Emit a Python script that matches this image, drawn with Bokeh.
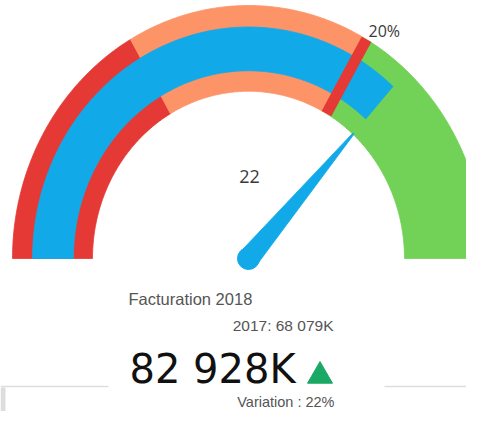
import math
from bokeh.plotting import figure
from bokeh.models import Range1d
from bokeh.embed import file_html
from bokeh.resources import INLINE
from bokeh.core.properties import value

# ---------------- data ----------------
gauge_min = 0
gauge_max = 30
band_starts = [0, 10, 20]
band_ends = [10, 20, 30]
band_colors = ["#e53935", "#fd9468", "#72d157"]
current_value = 22
target_value = 20
value_label = "22"
target_label = "20%"
title_text = "Facturation 2018"
previous_text = "2017: 68 079K"
current_text = "82 928K"
variation_text = "Variation : 22%"

# ---------------- layout ----------------
W, H = 466, 411
CX, CY = 248.0, 258.0      # gauge centre (px in the figure)
SX, SY = 236.0, 253.0      # px per unit horizontally / vertically
R_OUT, R_IN = 1.0, 0.661
B_IN, B_OUT = 0.742, 0.915
KB = 0.34                  # baseline compensation (fraction of font size)

BLUE = "#12a9e8"
RED = "#e53935"


def dx(sx):
    return (sx - CX) / SX


def dy(sy):
    return (CY - sy) / SY


def base(sy, size):
    return dy(sy - KB * size)


def ang(v):
    return math.pi * (1 - (v - gauge_min) / (gauge_max - gauge_min))


def annulus(v0, v1, r0, r1, n=90):
    a0, a1 = ang(v0), ang(v1)
    ts = [a0 + (a1 - a0) * i / n for i in range(n + 1)]
    xs = [r1 * math.cos(t) for t in ts] + [r0 * math.cos(t) for t in reversed(ts)]
    ys = [r1 * math.sin(t) for t in ts] + [r0 * math.sin(t) for t in reversed(ts)]
    return xs, ys


p = figure(width=W, height=H,
           x_range=Range1d(dx(0), dx(W)),
           y_range=Range1d(dy(H), dy(0)),
           output_backend="svg", toolbar_location=None,
           x_axis_location=None, y_axis_location=None,
           min_border=0)
p.grid.visible = False
p.outline_line_color = None
p.background_fill_color = "white"
p.border_fill_color = "white"

# bands
bx, by = [], []
for s, e in zip(band_starts, band_ends):
    xs, ys = annulus(s, e, R_IN, R_OUT)
    bx.append(xs)
    by.append(ys)
p.patches(bx, by, fill_color=band_colors, line_color=band_colors, line_width=0.8)

# value band
vx, vy = annulus(gauge_min, current_value, B_IN, B_OUT)
p.patch(vx, vy, fill_color=BLUE, line_color=BLUE, line_width=0.8)

# target marker
ta = ang(target_value)
p.segment(x0=[R_IN * math.cos(ta)], y0=[R_IN * math.sin(ta)],
          x1=[R_OUT * math.cos(ta)], y1=[R_OUT * math.sin(ta)],
          line_color=RED, line_width=11, line_cap="butt")

# needle
na = ang(current_value)
ux, uy = SX * math.cos(na), SY * math.sin(na)
L = math.hypot(ux, uy)
ux, uy = ux / L, uy / L
nx, ny = -uy, ux
tipx, tipy = 0.665 * math.cos(na), 0.665 * math.sin(na)
hb, ht = 10.5, 0.8
nxs = [hb * nx / SX, tipx + ht * nx / SX, tipx - ht * nx / SX, -hb * nx / SX]
nys = [hb * ny / SY, tipy + ht * ny / SY, tipy - ht * ny / SY, -hb * ny / SY]
p.patch(nxs, nys, fill_color=BLUE, line_color=BLUE, line_width=0.8)
p.scatter(x=[0], y=[0], size=22, fill_color=BLUE, line_color=BLUE)

# gauge labels
p.text(x=[dx(249)], y=[base(182, 18)], text=[value_label], text_align="center",
       text_baseline="alphabetic", text_font=value("Open Sans"),
       text_font_size="18px", text_color="#3a3a3a")
p.text(x=[dx(368)], y=[base(36, 16)], text=[target_label], text_align="left",
       text_baseline="alphabetic", text_font=value("Open Sans"),
       text_font_size="16px", text_color="#3a3a3a")

# separator line and left strip
p.segment(x0=[dx(0), dx(384)], x1=[dx(108), dx(W)],
          y0=[dy(386), dy(386)], y1=[dy(386), dy(386)],
          line_color="#dddddd", line_width=1.5)
p.segment(x0=[dx(2.5)], x1=[dx(2.5)], y0=[dy(387)], y1=[dy(H)],
          line_color="#dddddd", line_width=5)

# KPI texts
p.text(x=[dx(128)], y=[base(304.5, 16.5)], text=[title_text], text_align="left",
       text_baseline="alphabetic", text_font=value("Liberation Sans"),
       text_font_size="16.5px", text_color="#555555")
p.text(x=[dx(333)], y=[base(330, 15.5)], text=[previous_text], text_align="right",
       text_baseline="alphabetic", text_font=value("Liberation Sans"),
       text_font_size="15.5px", text_color="#555555")
p.text(x=[dx(129)], y=[base(382, 40)], text=[current_text], text_align="left",
       text_baseline="alphabetic", text_font=value("DejaVu Sans"),
       text_font_size="40px", text_color="#111111")
p.scatter(x=[dx(319.5)], y=[dy(375.5)], marker="triangle", size=25,
          fill_color="#1aa865", line_color="#1aa865")
p.text(x=[dx(334)], y=[base(406.5, 14.5)], text=[variation_text], text_align="right",
       text_baseline="alphabetic", text_font=value("Liberation Sans"),
       text_font_size="14.5px", text_color="#555555")

open("out.html", "w").write(file_html(p, INLINE))
